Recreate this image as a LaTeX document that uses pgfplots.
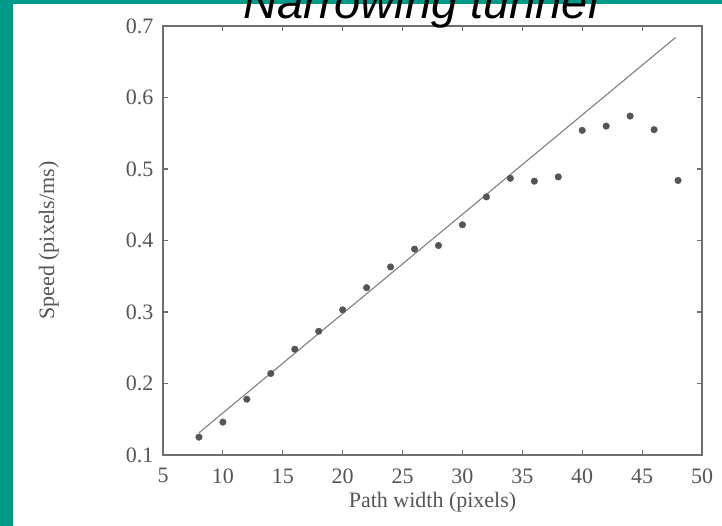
\documentclass[border=0pt]{standalone}
\usepackage{fontspec}
\setmainfont{Liberation Serif}
\newfontfamily\arialfont{Liberation Sans}
\usepackage{pgfplots}
\pgfplotsset{compat=1.18}
\definecolor{slideteal}{HTML}{009A88}
\definecolor{scangray}{HTML}{555555}
\definecolor{framegray}{HTML}{6E6E6E}
\begin{document}
\begin{tikzpicture}
\useasboundingbox (0,0) rectangle (722bp,526bp);
\clip (0,0) rectangle (722bp,526bp);
\fill[slideteal] (0,0) rectangle (722bp,526bp);
\fill[white] (13bp,0) rectangle (722bp,522bp);
\begin{axis}[
    at={(163bp,71bp)}, anchor=south west,
    width=539bp, height=429bp, scale only axis,
    xmin=5, xmax=50, ymin=0.1, ymax=0.7,
    xtick={5,10,...,50},
    ytick={0.1,0.2,0.3,0.4,0.5,0.6,0.7},
    tick pos=both, tick align=inside,
    major tick length=5bp,
    axis line style={framegray, line width=1.5bp},
    tick style={framegray, line width=1.2bp},
    y tick label style={/pgf/number format/fixed, /pgf/number format/fixed zerofill, /pgf/number format/precision=1, xshift=-6bp},
    /pgf/number format/assume math mode=true,
    tick label style={font=\fontsize{22bp}{25bp}\selectfont, text=scangray},
    x tick label style={yshift=-10bp},
    label style={font=\fontsize{22bp}{25bp}\selectfont, text=scangray},
    xlabel={Path width (pixels)},
    ylabel={Speed (pixels/ms)},
    x label style={at={(axis description cs:0.5,-0.11)}, anchor=center},
    y label style={at={(axis description cs:-0.212,0.5)}, anchor=center},
  ]
  % fitted line
  \addplot[color=gray, line width=1.1bp] coordinates {(8,0.131) (47.8,0.684)};
  % measured speeds
  \addplot[only marks, mark=*, mark size=3.3bp, color=scangray] coordinates {
    (8,0.125) (10,0.146) (12,0.178) (14,0.214) (16,0.248) (18,0.273)
    (20,0.303) (22,0.334) (24,0.363) (26,0.388) (28,0.393) (30,0.422)
    (32,0.461) (34,0.487) (36,0.483) (38,0.489) (40,0.554) (42,0.560)
    (44,0.574) (46,0.555) (48,0.484)
  };
\end{axis}
\node[anchor=base, font=\arialfont\itshape\fontsize{47bp}{50bp}\selectfont] at (421bp,507bp) {Narrowing tunnel};
\end{tikzpicture}
\end{document}
